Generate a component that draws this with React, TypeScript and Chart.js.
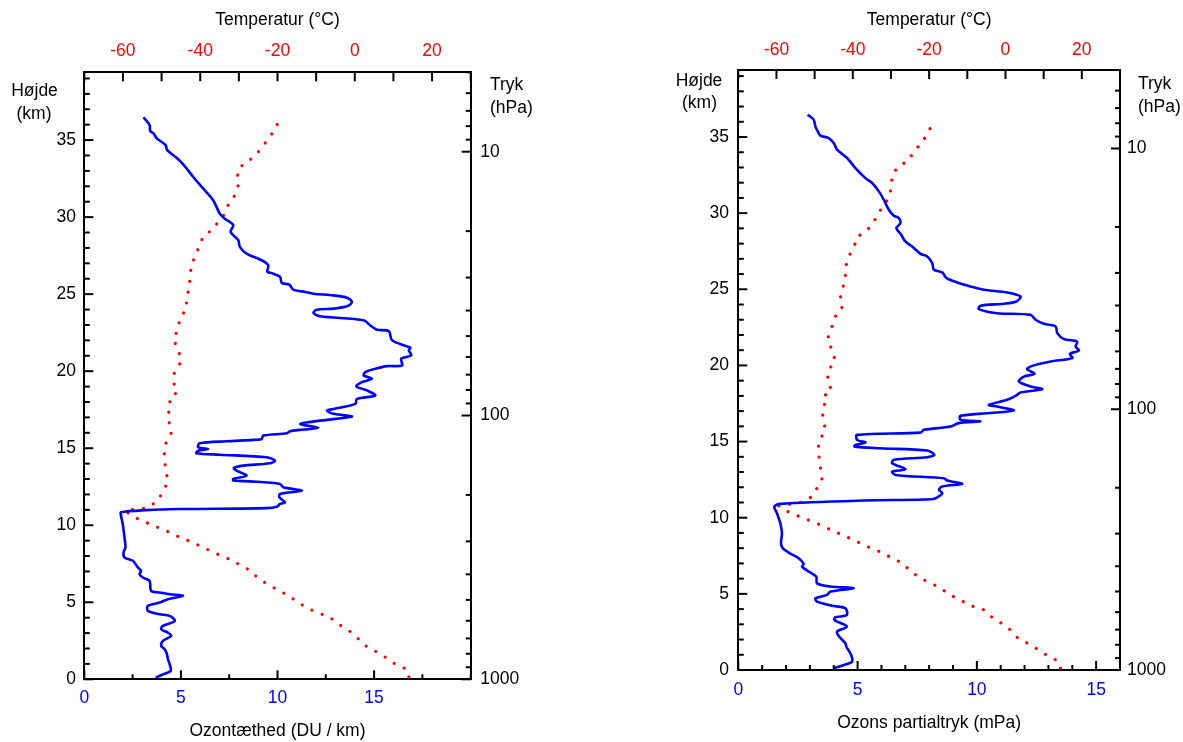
import React, { useEffect, useRef } from 'react';
import { Chart, registerables } from 'chart.js';

Chart.register(...registerables);

const FONT_FAMILY = '"Liberation Sans", Arial, Helvetica, sans-serif';
const FONT_SIZE = 17.5;
const BLUE = '#0000ff';
const RED = '#ff0000';

// ---------- Left chart: ozone density (DU/km) ----------
const densityHeightKm = [
  0.11, 0.32, 0.54, 0.97, 1.3, 1.62, 1.95, 2.17, 2.49, 2.82, 3.03, 3.25, 3.47, 3.79, 4.12, 4.22, 4.44, 4.77, 4.98, 5.2,
  5.42, 5.52, 5.63, 5.74, 6.39, 6.61, 6.82, 7.04, 7.26, 7.69, 7.9, 8.23, 8.56, 9.21, 10.08, 10.62, 10.84, 10.98, 11.05, 11.11,
  11.2, 11.38, 11.49, 11.81, 12.03, 12.24, 12.46, 12.68, 12.85, 12.9, 13.0, 13.22, 13.54, 13.72, 13.87, 14.02, 14.2, 14.41, 14.58, 14.67,
  14.84, 14.95, 15.06, 15.32, 15.45, 15.54, 15.6, 15.82, 15.97, 16.1, 16.19, 16.32, 16.58, 16.79, 17.05, 17.23, 17.44, 17.55, 17.88, 18.2,
  18.42, 18.75, 19.01, 19.29, 19.51, 19.72, 19.94, 20.16, 20.33, 20.37, 20.81, 21.02, 21.35, 21.52, 21.61, 22.0, 22.6, 22.69, 22.97, 23.3,
  23.56, 23.78, 23.99, 24.06, 24.21, 24.49, 24.77, 24.92, 25.03, 25.14, 25.29, 25.62, 25.73, 26.12, 26.38, 26.44, 26.87, 27.2, 27.63, 28.07,
  28.5, 29.04, 29.48, 29.9, 30.23, 31.1, 31.86, 32.62, 33.44, 33.87, 34.35, 34.68, 35.1, 35.43, 35.6, 35.98, 36.48,
];
const densityDUperKm = [
  3.69, 4.07, 4.47, 4.42, 4.33, 4.28, 4.16, 3.98, 4.07, 4.5, 4.33, 3.98, 4.07, 4.68, 4.42, 3.9, 3.29, 3.29, 3.9, 4.33,
  5.11, 4.42, 3.9, 3.46, 3.38, 3.03, 2.86, 2.94, 2.77, 2.51, 2.08, 2.03, 2.13, 2.08, 1.99, 1.9, 1.9, 3.2, 4.94, 9.44,
  9.96, 10.13, 10.39, 10.1, 10.13, 11.26, 10.3, 10.13, 8.57, 7.71, 7.71, 8.4, 7.88, 7.74, 8.23, 9.61, 9.87, 9.44, 7.01, 5.8,
  5.89, 6.41, 5.89, 5.97, 7.36, 8.74, 9.18, 9.26, 10.48, 10.65, 11.17, 12.12, 11.17, 12.21, 13.85, 12.9, 12.56, 12.9, 14.03, 14.11,
  15.06, 14.63, 14.08, 14.37, 14.89, 14.46, 14.55, 15.06, 15.67, 16.45, 16.4, 16.92, 16.8, 16.88, 16.71, 15.93, 15.76, 15.15, 14.8, 14.46,
  12.21, 11.86, 12.03, 12.9, 13.6, 13.85, 13.6, 12.9, 11.86, 11.43, 10.82, 10.61, 10.22, 10.13, 9.65, 9.47, 9.52, 9.18, 8.4, 8.05,
  7.97, 7.57, 7.71, 7.27, 7.01, 6.67, 6.15, 5.63, 5.11, 4.76, 4.29, 4.21, 3.76, 3.58, 3.41, 3.38, 3.06,
];
const tempLeftHeightKm = [
  0.15, 0.65, 0.98, 1.45, 1.89, 2.23, 2.71, 3.21, 3.62, 4.05, 4.29, 4.59, 4.98, 5.42, 5.78, 6.17, 6.61, 7.08, 7.47, 7.8,
  8.12, 8.45, 8.78, 9.06, 9.36, 9.71, 9.97, 10.29, 10.58, 10.94, 11.05, 11.12, 11.55, 12.17, 12.78, 13.54, 14.06, 14.58, 15.21, 16.04,
  17.12, 17.66, 18.2, 18.66, 19.24, 19.94, 20.63, 21.35, 22.04, 22.76, 23.47, 24.06, 24.71, 25.36, 26.12, 26.87, 27.59, 28.28, 28.76, 29.19,
  29.54, 30.06, 30.82, 31.43, 32.18, 32.9, 33.48, 33.87, 34.46, 35.05, 35.7, 36.3,
];
const tempLeftC = [
  14.0, 13.5, 10.5, 7.8, 4.9, 2.4, 0.6, -1.7, -4.5, -6.5, -9.3, -12.0, -14.7, -17.0, -19.8, -22.6, -25.2, -27.2, -30.0, -32.5,
  -35.5, -38.3, -41.1, -43.7, -46.6, -49.3, -52.2, -54.9, -57.7, -59.4, -56.6, -53.8, -51.2, -49.6, -48.5, -48.7, -49.2, -49.3, -49.1, -47.4,
  -48.5, -47.6, -48.0, -45.9, -46.9, -46.7, -44.9, -45.6, -46.9, -45.8, -45.2, -43.5, -43.6, -42.9, -42.6, -42.3, -41.1, -40.0, -39.2, -36.8,
  -35.8, -34.1, -32.7, -31.0, -30.0, -30.4, -28.8, -26.2, -24.2, -22.5, -20.6, -19.6,
];

// ---------- Right chart: ozone partial pressure (mPa) ----------
const partialHeightKm = [
  0.11, 0.33, 0.55, 0.99, 1.27, 1.53, 1.75, 2.23, 2.52, 2.85, 3.29, 3.46, 3.61, 4.05, 4.2, 4.49, 4.71, 4.93, 5.15, 5.37,
  5.48, 5.69, 6.13, 6.4, 6.79, 6.96, 7.34, 7.71, 7.99, 8.32, 8.98, 9.64, 10.29, 10.73, 10.91, 11.13, 11.21, 11.34, 11.61, 11.83,
  12.05, 12.22, 12.44, 12.59, 12.81, 13.03, 13.18, 13.58, 13.8, 13.97, 14.13, 14.41, 14.56, 14.67, 14.78, 14.94, 15.11, 15.44, 15.59, 15.77,
  15.99, 16.21, 16.32, 16.43, 16.69, 16.86, 17.04, 17.3, 17.41, 17.74, 18.0, 18.22, 18.44, 18.62, 18.94, 19.27, 19.45, 19.75, 19.97, 20.26,
  20.48, 20.76, 20.98, 21.24, 21.57, 21.73, 22.12, 22.56, 22.73, 23.0, 23.32, 23.43, 23.7, 23.92, 24.05, 24.2, 24.53, 24.79, 24.97, 25.19,
  25.45, 25.73, 26.11, 26.28, 26.72, 27.16, 27.33, 27.81, 28.14, 28.58, 29.02, 29.35, 29.68, 29.83, 30.22, 30.88, 31.43, 31.98, 32.3, 32.96,
  33.62, 34.17, 34.6, 34.93, 35.09, 35.37, 35.7, 36.14, 36.46,
];
const partialMPa = [
  4.0, 4.42, 4.77, 4.73, 4.63, 4.53, 4.49, 4.21, 4.14, 4.55, 4.03, 4.07, 4.55, 4.49, 4.0, 3.3, 3.23, 3.72, 3.86, 4.84,
  3.86, 3.3, 3.27, 3.02, 2.67, 2.74, 2.53, 2.11, 1.87, 1.79, 1.83, 1.76, 1.62, 1.51, 1.76, 5.26, 8.13, 8.34, 8.55, 8.41,
  8.55, 9.38, 8.76, 8.62, 6.59, 6.45, 7.01, 6.45, 6.52, 7.92, 8.22, 7.92, 5.96, 4.87, 4.91, 5.33, 4.98, 4.98, 7.64, 7.78,
  8.9, 9.24, 10.15, 9.31, 9.31, 10.43, 11.55, 10.85, 10.5, 11.27, 11.62, 11.83, 12.74, 12.25, 11.76, 11.97, 12.42, 12.11, 12.32, 13.09,
  14.0, 13.9, 14.28, 14.14, 14.2, 13.65, 13.37, 13.3, 12.81, 12.46, 12.25, 10.85, 10.08, 10.15, 11.13, 11.66, 11.83, 11.27, 10.29, 9.73,
  9.17, 8.73, 8.55, 8.2, 8.13, 7.92, 7.64, 7.29, 7.0, 6.83, 6.63, 6.8, 6.73, 6.52, 6.31, 6.1, 5.89, 5.61, 5.33, 4.91,
  4.56, 4.14, 4.0, 3.79, 3.44, 3.33, 3.23, 3.16, 2.91,
];
const tempRightHeightKm = [
  0.11, 0.59, 0.92, 1.38, 1.8, 2.15, 2.67, 3.13, 3.55, 4.05, 4.2, 4.6, 4.93, 5.3, 5.69, 6.02, 6.5, 7.01, 7.34, 7.71,
  7.99, 8.32, 8.65, 8.94, 9.24, 9.57, 9.86, 10.14, 10.45, 10.78, 10.88, 10.99, 11.34, 12.0, 12.53, 13.32, 13.8, 14.35, 14.94, 15.77,
  16.75, 17.41, 17.96, 18.35, 18.94, 19.64, 20.32, 21.02, 21.75, 22.45, 23.15, 23.72, 24.42, 25.08, 25.8, 26.54, 27.27, 27.92, 28.43, 28.8,
  29.13, 29.72, 30.4, 31.06, 31.76, 32.46, 33.03, 33.44, 34.1, 34.6, 35.26, 35.87,
];
const tempRightC = [
  14.4, 13.8, 11.1, 8.3, 5.5, 3.0, 1.1, -1.4, -4.0, -6.2, -9.0, -11.8, -14.5, -16.6, -19.4, -22.3, -24.9, -26.9, -29.7, -32.4,
  -35.2, -38.0, -40.8, -43.4, -46.1, -48.9, -51.8, -54.6, -57.4, -59.4, -56.6, -53.8, -51.0, -49.2, -48.1, -48.5, -48.8, -49.0, -49.0, -47.2,
  -47.9, -47.4, -47.8, -45.5, -46.6, -46.5, -44.6, -45.5, -46.6, -45.6, -44.8, -42.8, -43.3, -42.6, -42.0, -41.8, -40.8, -39.5, -38.9, -36.5,
  -35.4, -33.8, -32.3, -30.4, -29.9, -29.7, -28.3, -25.5, -23.9, -21.9, -20.4, -19.1,
];

// ---------- Axis ticks and labels ----------
const heightTicksKm = [0, 1, 2, 3, 4, 5, 6, 7, 8, 9, 10, 11, 12, 13, 14, 15, 16, 17, 18, 19, 20, 21, 22, 23, 24, 25, 26, 27, 28, 29, 30, 31, 32, 33, 34, 35, 36, 37, 38, 39];
const heightLabelsKm = [0, 5, 10, 15, 20, 25, 30, 35];
const pressureTicksHPa = [5, 6, 7, 8, 9, 10, 20, 30, 40, 50, 60, 70, 80, 90, 100, 200, 300, 400, 500, 600, 700, 800, 900, 1000];
const pressureLabelsHPa = [10, 100, 1000];
const tempTicksC = [-70, -60, -50, -40, -30, -20, -10, 0, 10, 20, 30];
const tempLabelsC = [-60, -40, -20, 0, 20];
const densityTicks = [0, 2.5, 5, 7.5, 10, 12.5, 15, 17.5, 20];
const densityLabels = [0, 5, 10, 15];
const partialTicks = [0, 1, 2, 3, 4, 5, 6, 7, 8, 9, 10, 11, 12, 13, 14, 15, 16];
const partialLabels = [0, 5, 10, 15];

type Corner = { text: string; x: number; y: number; align: CanvasTextAlign };
type Spec = {
  ozone: number[]; ozoneH: number[]; temp: number[]; tempH: number[];
  ozoneMax: number; ozoneTicks: number[]; ozoneLabels: number[]; ozoneTitle: string;
  heightMax: number;
  leftW: number; rightW: number; topH: number; bottomH: number;
  padY: number; padP: number; padTop: number; padBottom: number; titleTopPad: number; titleBottomPad: number;
  corner: Corner[];
};

const tickLens: Record<string, { major: number; minor: number }> = {
  x: { major: 9, minor: 5 },
  xT: { major: 9, minor: 9 },
  y: { major: 9, minor: 5.5 },
  yP: { major: 9, minor: 5 },
};

function makeDecorations(corner: Corner[]) {
  return {
    id: 'decorations',
    afterDraw(chart: any) {
      const ctx: CanvasRenderingContext2D = chart.ctx;
      const a = chart.chartArea;
      ctx.save();
      ctx.strokeStyle = '#000';
      ctx.lineWidth = 2;
      Object.values(chart.scales).forEach((s: any) => {
        const lens = tickLens[s.id];
        if (!lens) return;
        s.ticks.forEach((t: any) => {
          const major = t.label !== '' && t.label != null;
          const len = major ? lens.major : lens.minor;
          const p = s.getPixelForValue(t.value);
          ctx.beginPath();
          if (s.position === 'left') { ctx.moveTo(a.left, p); ctx.lineTo(a.left + len, p); }
          else if (s.position === 'right') { ctx.moveTo(a.right, p); ctx.lineTo(a.right - len, p); }
          else if (s.position === 'top') { ctx.moveTo(p, a.top); ctx.lineTo(p, a.top + len); }
          else { ctx.moveTo(p, a.bottom); ctx.lineTo(p, a.bottom - len); }
          ctx.stroke();
        });
      });
      ctx.fillStyle = '#000';
      ctx.font = `${FONT_SIZE}px ${FONT_FAMILY}`;
      ctx.textBaseline = 'alphabetic';
      corner.forEach((l) => {
        ctx.textAlign = l.align;
        ctx.fillText(l.text, l.x, l.y);
      });
      ctx.restore();
    },
  };
}

function buildConfig(spec: Spec): any {
  const font = { family: FONT_FAMILY, size: FONT_SIZE };
  const grid = { drawOnChartArea: false, drawTicks: false, color: 'rgba(0,0,0,0)' };
  const border = { display: true, color: '#000', width: 2 };
  return {
    type: 'line',
    data: {
      datasets: [
        {
          label: 'ozone',
          data: spec.ozoneH.map((h, i) => ({ x: spec.ozone[i], y: h })),
          xAxisID: 'x',
          yAxisID: 'y',
          borderColor: BLUE,
          borderWidth: 2.6,
          pointRadius: 0,
          tension: 0.3,
          fill: false,
        },
        {
          label: 'temperature',
          data: spec.tempH.map((h, i) => ({ x: spec.temp[i], y: h })),
          xAxisID: 'xT',
          yAxisID: 'y',
          borderColor: RED,
          borderWidth: 3.2,
          borderDash: [0.001, 11],
          borderCapStyle: 'round',
          pointRadius: 0,
          tension: 0,
          fill: false,
        },
      ],
    },
    options: {
      animation: false,
      responsive: false,
      events: [],
      layout: { padding: 0 },
      plugins: { legend: { display: false }, tooltip: { enabled: false } },
      scales: {
        x: {
          type: 'linear',
          position: 'bottom',
          min: 0,
          max: spec.ozoneMax,
          afterBuildTicks: (s: any) => { s.ticks = spec.ozoneTicks.map((v) => ({ value: v })); },
          afterFit: (s: any) => { s.height = spec.bottomH; },
          ticks: {
            autoSkip: false, maxRotation: 0, padding: spec.padBottom, color: BLUE, font,
            callback: (v: number) => (spec.ozoneLabels.includes(v) ? String(v) : ''),
          },
          grid, border,
          title: { display: true, text: spec.ozoneTitle, color: '#000', font, padding: { top: 0, bottom: spec.titleBottomPad } },
        },
        xT: {
          type: 'linear',
          position: 'top',
          min: -70,
          max: 30,
          afterBuildTicks: (s: any) => { s.ticks = tempTicksC.map((v) => ({ value: v })); },
          afterFit: (s: any) => { s.height = spec.topH; },
          ticks: {
            autoSkip: false, maxRotation: 0, padding: spec.padTop, color: RED, font,
            callback: (v: number) => (tempLabelsC.includes(v) ? String(v) : ''),
          },
          grid, border,
          title: { display: true, text: 'Temperatur (°C)', color: '#000', font, padding: { top: spec.titleTopPad, bottom: 0 } },
        },
        y: {
          type: 'linear',
          position: 'left',
          min: 0,
          max: spec.heightMax,
          afterBuildTicks: (s: any) => { s.ticks = heightTicksKm.map((v) => ({ value: v })); },
          afterFit: (s: any) => { s.width = spec.leftW; },
          ticks: {
            autoSkip: false, padding: spec.padY, color: '#000', font,
            callback: (v: number) => (heightLabelsKm.includes(v) ? String(v) : ''),
          },
          grid, border,
        },
        yP: {
          type: 'logarithmic',
          position: 'right',
          min: 5,
          max: 1000,
          reverse: true,
          afterBuildTicks: (s: any) => { s.ticks = pressureTicksHPa.map((v) => ({ value: v })); },
          afterFit: (s: any) => { s.width = spec.rightW; },
          ticks: {
            autoSkip: false, padding: spec.padP, color: '#000', font,
            callback: (v: number) => (pressureLabelsHPa.includes(v) ? String(v) : ''),
          },
          grid, border,
        },
      },
    },
    plugins: [makeDecorations(spec.corner)],
  };
}

const leftSpec: Spec = {
  ozone: densityDUperKm, ozoneH: densityHeightKm, temp: tempLeftC, tempH: tempLeftHeightKm,
  ozoneMax: 20, ozoneTicks: densityTicks, ozoneLabels: densityLabels, ozoneTitle: 'Ozontæthed (DU / km)',
  heightMax: 39.4,
  leftW: 84.3, rightW: 129.3, topH: 72.3, bottomH: 62.7,
  padY: 8.3, padP: 9.5, padTop: 11, padBottom: 8.4, titleTopPad: 10, titleBottomPad: 0.4,
  corner: [
    { text: 'Højde', x: 34.5, y: 96, align: 'center' },
    { text: '(km)', x: 34, y: 118.5, align: 'center' },
    { text: 'Tryk', x: 490, y: 89.5, align: 'left' },
    { text: '(hPa)', x: 490, y: 112.5, align: 'left' },
  ],
};

const rightSpec: Spec = {
  ozone: partialMPa, ozoneH: partialHeightKm, temp: tempRightC, tempH: tempRightHeightKm,
  ozoneMax: 16, ozoneTicks: partialTicks, ozoneLabels: partialLabels, ozoneTitle: 'Ozons partialtryk (mPa)',
  heightMax: 39.4,
  leftW: 138.3, rightW: 63, topH: 70, bottomH: 72,
  padY: 9.3, padP: 7, padTop: 9, padBottom: 10, titleTopPad: 10, titleBottomPad: 8.4,
  corner: [
    { text: 'Højde', x: 99, y: 86, align: 'center' },
    { text: '(km)', x: 99.5, y: 108, align: 'center' },
    { text: 'Tryk', x: 538, y: 88.5, align: 'left' },
    { text: '(hPa)', x: 538, y: 111.5, align: 'left' },
  ],
};

function ProfileChart({ spec, left, width }: { spec: Spec; left: number; width: number }) {
  const ref = useRef<HTMLCanvasElement>(null);
  useEffect(() => {
    const chart = new Chart(ref.current as HTMLCanvasElement, buildConfig(spec));
    return () => chart.destroy();
  }, [spec]);
  return (
    <canvas
      ref={ref}
      width={width}
      height={742}
      style={{ position: 'absolute', left, top: 0, width, height: 742, display: 'block' }}
    />
  );
}

export default function App() {
  return (
    <div style={{ position: 'absolute', left: 0, top: 0, width: 1183, height: 742, background: '#fff', overflow: 'hidden' }}>
      <ProfileChart spec={leftSpec} left={0} width={600} />
      <ProfileChart spec={rightSpec} left={600} width={583} />
    </div>
  );
}
